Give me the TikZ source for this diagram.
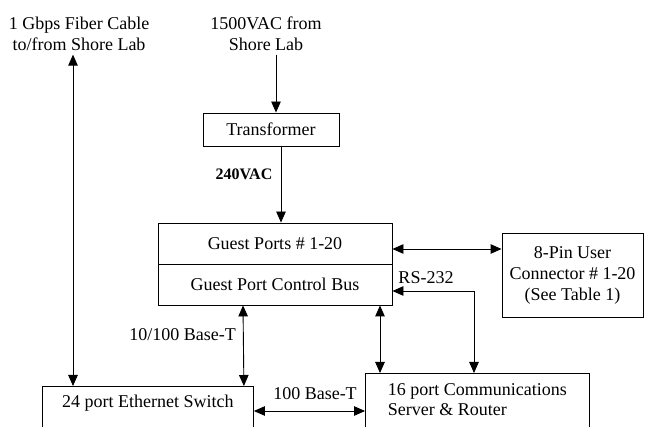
\documentclass[tikz,border=0pt]{standalone}
\usepackage{fontspec}
\setmainfont{Liberation Serif}
\usetikzlibrary{arrows.meta}

\begin{document}
\begin{tikzpicture}[x=1pt, y=-1pt, line width=0.9pt,
  every node/.style={font=\fontsize{18}{21}\selectfont},
  box/.style={draw, rectangle, inner sep=0pt},
  arr/.style={-{Triangle[length=11pt,width=9.5pt]}},
  dbl/.style={{Triangle[length=11pt,width=9.5pt]}-{Triangle[length=11pt,width=9.5pt]}}]
\useasboundingbox (0,0) rectangle (662,427);
\clip (0,0) rectangle (662,427);

% Sources
\node[align=center] (fiber) at (79,34) {1 Gbps Fiber Cable\\to/from Shore Lab};
\node[align=center] (src) at (266,34) {1500VAC from\\Shore Lab};

% Boxes
\node[box, minimum width=136pt, minimum height=33pt] (trans) at (271,129.5) {Transformer};
\node[box, minimum width=234pt, minimum height=41pt] (ports) at (275,243.5) {Guest Ports \# 1-20};
\node[box, minimum width=234pt, minimum height=41pt] (bus) at (275,284.5) {Guest Port Control Bus};
\node[box, minimum width=141pt, minimum height=84pt, align=center] (pin) at (572.5,275)
  {8-Pin User\\Connector \# 1-20\\(See Table 1)};
\node[box, anchor=north west, minimum width=211pt, inner xsep=11pt, inner ysep=8.5pt,
  text depth=40pt] (sw) at (42,386) {24 port Ethernet Switch};
\node[box, anchor=north west, minimum width=224pt, inner xsep=12pt, inner ysep=10.5pt,
  align=left, font=\fontsize{18}{19.5}\selectfont, text depth=40pt] (srv) at (365,373)
  {16 port Communications\\Server \& Router};

% Power
\draw[arr] ([xshift=10pt]src.south) -- ([xshift=5pt]trans.north);
\draw[arr] ([xshift=10pt]trans.south) -- ([xshift=6pt]ports.north);
\node[anchor=base, font=\fontsize{16}{19}\selectfont\bfseries] (vac) at (244,180) {240VAC};

% Data links
\draw[dbl] ([xshift=-6pt]fiber.south) -- ([xshift=31pt]sw.north west);
\draw[dbl] ([xshift=-32pt]bus.south) -- ([xshift=-10pt]sw.north east);
\node[anchor=base] (lan) at (182.5,341) {10/100 Base-T};
\draw[dbl] ([yshift=-25pt]sw.north east) -- ([yshift=-38pt]srv.north west);
\node[anchor=base] (bt) at (315,400) {100 Base-T};
\draw[dbl] ([yshift=-5.5pt]ports.east) -- ([yshift=-5.5pt]ports.east -| pin.west);
\draw[dbl] ([xshift=105pt]bus.south) -- ([xshift=15pt]srv.north west);
\draw[dbl] ([yshift=-6.5pt]bus.east) -| ([xshift=109pt]srv.north west);
\node[anchor=base] (rs) at (426,284) {RS-232};
\end{tikzpicture}
\end{document}
